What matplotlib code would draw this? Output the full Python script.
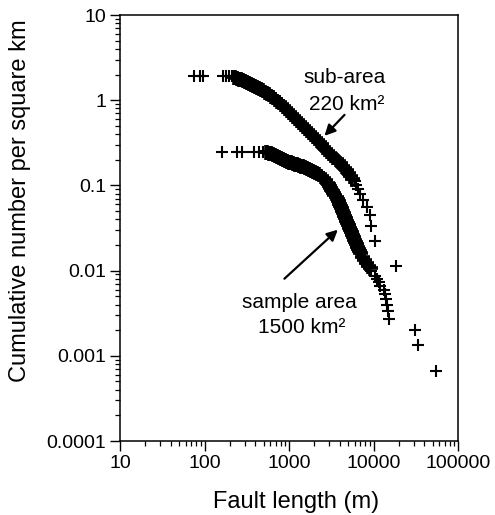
import matplotlib
matplotlib.use("Agg")
import matplotlib.pyplot as plt
from matplotlib.ticker import LogLocator, FuncFormatter, NullFormatter

plt.rcParams['font.family'] = ['Liberation Sans', 'DejaVu Sans']

# ---- data ----
# sub-area (220 km2): fault length (m) and cumulative number per km2
# shortest faults (isolated crosses at the top left)
sub_left_length = [75, 88, 97, 164, 182, 196, 211]
sub_left_density = [1.90, 1.90, 1.90, 1.90, 1.90, 1.90, 1.90]
# dense band of crosses
sub_band_length = [225, 231.3, 244.3, 258.0, 272.5, 287.8, 304.0, 321.1, 339.0,
                   358.1, 378.2, 399.5, 421.9, 445.6, 470.6, 497.1, 524.8,
                   554.3, 585.5, 618.3, 653.0, 689.6, 728.5, 769.3, 812.5,
                   858.2, 906.3, 957.1, 1010.8, 1067.6, 1127.5, 1190.8, 1257.6,
                   1328.2, 1402.9, 1481.5, 1564.6, 1652.4, 1745.3, 1843.2,
                   1946.7, 2056.0, 2171.3, 2293.4, 2422.1, 2558.3, 2701.9,
                   2853.3, 3013.8, 3183.0, 3361.9, 3550.6, 3750.0, 3960.8,
                   4183.1, 4418.2, 4666.2, 4928.2, 5205.2, 5497.4]
sub_band_density = [1.876, 1.860, 1.826, 1.792, 1.758, 1.716, 1.680, 1.639,
                    1.595, 1.553, 1.512, 1.471, 1.432, 1.394, 1.357, 1.310,
                    1.261, 1.218, 1.173, 1.126, 1.084, 1.038, 0.9866, 0.9398,
                    0.8953, 0.8505, 0.8100, 0.7698, 0.7290, 0.6906, 0.6543,
                    0.6198, 0.5872, 0.5562, 0.5270, 0.4968, 0.4694, 0.4426,
                    0.4194, 0.3973, 0.3764, 0.3566, 0.3378, 0.3200, 0.3032,
                    0.2858, 0.2700, 0.2544, 0.2410, 0.2284, 0.2163, 0.2044,
                    0.1927, 0.1820, 0.1711, 0.1603, 0.1503, 0.1398, 0.1296,
                    0.1196]
# longest faults (isolated crosses)
sub_tail_length = [5968, 6250, 6530, 6840, 7430, 8280, 9000, 9420, 10300, 18600]
sub_tail_density = [0.112, 0.101, 0.0896, 0.0784, 0.0672, 0.056, 0.0448,
                    0.0336, 0.0224, 0.0112]

# sample area (1500 km2)
sample_left_length = [162, 241, 276, 389, 440, 490]
sample_left_density = [0.246, 0.246, 0.246, 0.246, 0.246, 0.246]
sample_band_length = [532, 554.3, 585.5, 618.3, 653.0, 689.6, 728.5, 769.3,
                      812.5, 858.2, 906.3, 957.1, 1010.8, 1067.6, 1127.5,
                      1190.8, 1257.6, 1328.2, 1402.9, 1481.5, 1564.6, 1652.4,
                      1745.3, 1843.2, 1946.7, 2056.0, 2171.3, 2293.4, 2422.1,
                      2558.3, 2701.9, 2853.3, 2933, 3013.8, 3097, 3183.0, 3271,
                      3361.9, 3455, 3550.6, 3649, 3750.0, 3854, 3960.8, 4071,
                      4183.1, 4299, 4418.2, 4541, 4666.2, 4796, 4928.2, 5065,
                      5205.2, 5350, 5497.4, 5650, 5806.4, 5968, 6133, 6302,
                      6476, 6656, 6840, 7224, 7629, 8057, 8509, 8987]
sample_band_density = [0.246, 0.2443, 0.2410, 0.2378, 0.2333, 0.2284, 0.2223,
                       0.2163, 0.2106, 0.2050, 0.1995, 0.1942, 0.1906, 0.1865,
                       0.1830, 0.1791, 0.1767, 0.1743, 0.1711, 0.1674, 0.1643,
                       0.1608, 0.1566, 0.1524, 0.1483, 0.1443, 0.1398, 0.1349,
                       0.1289, 0.1228, 0.1154, 0.1073, 0.1030, 0.0989, 0.0942,
                       0.0895, 0.0853, 0.0813, 0.0772, 0.0735, 0.0691, 0.0648,
                       0.0608, 0.0572, 0.0536, 0.0504, 0.0471, 0.0440, 0.0411,
                       0.0387, 0.0362, 0.0341, 0.0320, 0.0300, 0.0282, 0.0264,
                       0.0246, 0.0230, 0.0216, 0.0203, 0.0191, 0.0180, 0.0170,
                       0.0160, 0.01455, 0.01324, 0.01221, 0.01126, 0.01067]
sample_tail_length = [9240, 10300, 10900, 11500, 12100, 13200, 13550, 13900,
                      14300, 14700, 15100, 30700, 33600, 55600]
sample_tail_density = [0.0100, 0.00867, 0.0080, 0.00733, 0.00667, 0.0060,
                       0.00533, 0.00467, 0.0040, 0.00333, 0.00267, 0.0020,
                       0.00133, 0.000667]

x_ticks = [10, 100, 1000, 10000, 100000]
y_ticks = [0.0001, 0.001, 0.01, 0.1, 1, 10]

fig = plt.figure(figsize=(4.95, 5.15), dpi=100)
ax = fig.add_axes([120/495, 1-441/515, (458-120)/495, (441-15)/515])
ax.set_xscale('log')
ax.set_yscale('log')
ax.set_xlim(10, 100000)
ax.set_ylim(0.0001, 10)

single = dict(linestyle='none', marker='+', markersize=8.8,
              markeredgewidth=1.5, color='black')
dense = dict(linestyle='none', marker='+', markersize=10.8,
             markeredgewidth=2.6, color='black')
ax.plot(sub_left_length, sub_left_density, **single)
ax.plot(sub_band_length, sub_band_density, **dense)
ax.plot(sub_tail_length, sub_tail_density, **single)
ax.plot(sample_left_length, sample_left_density, **single)
ax.plot(sample_band_length, sample_band_density, **dense)
ax.plot(sample_tail_length, sample_tail_density, **single)

ax.set_xticks(x_ticks)
ax.set_yticks(y_ticks)
fmt = FuncFormatter(lambda v, p: '{:g}'.format(v))
ax.xaxis.set_major_formatter(fmt)
ax.yaxis.set_major_formatter(fmt)
ax.xaxis.set_minor_locator(LogLocator(base=10, subs=range(2, 10), numticks=20))
ax.yaxis.set_minor_locator(LogLocator(base=10, subs=range(2, 10), numticks=20))
ax.xaxis.set_minor_formatter(NullFormatter())
ax.yaxis.set_minor_formatter(NullFormatter())
ax.tick_params(which='major', direction='out', length=7, width=1.0,
               labelsize=14, pad=3, top=False, right=False)
ax.tick_params(which='minor', direction='out', length=3.5, width=0.9,
               top=False, right=False)
for s in ax.spines.values():
    s.set_linewidth(1.1)

ax.set_xlabel('Fault length (m)', fontsize=17)
ax.set_ylabel('Cumulative number per square km', fontsize=17)
ax.xaxis.set_label_coords(0.52, -0.117)
ax.yaxis.set_label_coords(-0.262, 0.563)

tk = dict(transform=ax.transAxes, ha='center', va='baseline', fontsize=15)
ax.text(0.665, 0.840, 'sub-area', **tk)
ax.text(0.670, 0.777, '220 km²', **tk)
ax.text(0.531, 0.312, 'sample area', **tk)
ax.text(0.539, 0.253, '1500 km²', **tk)

arrow = dict(arrowstyle='-|>', color='black', lw=1.6, mutation_scale=16,
             shrinkA=0, shrinkB=0)
ax.annotate('', xy=(2630, 0.3815), xytext=(4540, 0.673), arrowprops=arrow)
ax.annotate('', xy=(3784, 0.0302), xytext=(882, 0.00803), arrowprops=arrow)

fig.savefig('out.png', dpi=100)
